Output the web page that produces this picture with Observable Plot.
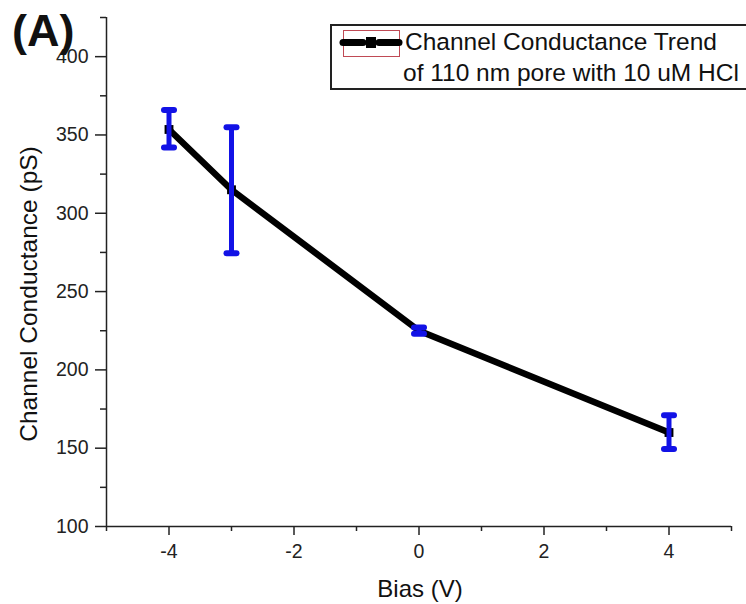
<!DOCTYPE html>
<html>
<head>
<meta charset="utf-8">
<script src="https://cdn.jsdelivr.net/npm/d3@7"></script>
<script src="https://cdn.jsdelivr.net/npm/@observablehq/plot@0.6"></script>
<style>
  html, body { margin: 0; padding: 0; background: #fff; overflow: hidden; }
  #wrap { position: relative; width: 746px; height: 604px; }
  #overlay { position: absolute; left: 0; top: 0; pointer-events: none; }
  text { font-family: "Liberation Sans", Arial, sans-serif; }
  #chart svg text { font-size: 19.5px; }
</style>
</head>
<body>
<div id="wrap">
  <div id="chart"></div>
  <svg id="overlay" width="746" height="604">
    <text x="12" y="46" font-size="45" font-weight="bold" fill="#111">(A)</text>
    <text transform="translate(37,294) rotate(-90)" text-anchor="middle" font-size="24.5" fill="#111">Channel Conductance (pS)</text>
    <text x="420" y="597" text-anchor="middle" font-size="24" fill="#111">Bias (V)</text>
    <g id="legend">
      <rect x="331" y="25" width="430" height="64" fill="#fff" stroke="#222" stroke-width="2"></rect>
      <rect x="343.5" y="30.5" width="56" height="26" fill="none" stroke="#c04a55" stroke-width="1"></rect>
      <line x1="343" y1="42.5" x2="363" y2="42.5" stroke="#000" stroke-width="7" stroke-linecap="round"></line>
      <rect x="366" y="37" width="10" height="11" fill="#000"></rect>
      <line x1="379" y1="42.5" x2="399" y2="42.5" stroke="#000" stroke-width="7" stroke-linecap="round"></line>
      <text x="405" y="50" font-size="24.5" fill="#111">Channel Conductance Trend</text>
      <text x="403" y="81" font-size="24.5" fill="#111">of 110 nm pore with 10 uM HCl</text>
    </g>
  </svg>
</div>
<script>
// Data
const bias = [-4, -3, 0, 4];
const conductance = [353.5, 315, 225, 160];
const errLow = [342, 274.5, 223, 149.5];
const errHigh = [366, 355, 227, 171];

// Axis ticks
const yMajorTicks = [100, 150, 200, 250, 300, 350, 400];
const yMinorTicks = [125, 175, 225, 275, 325, 375, 425];
const xMajorTicks = [-4, -2, 0, 2, 4];
const xMinorTicks = [-5, -3, -1, 1, 3, 5];

const data = bias.map((b, i) => ({x: b, y: conductance[i], lo: errLow[i], hi: errHigh[i]}));
const caps = data.flatMap(d => [{x: d.x, y: d.lo}, {x: d.x, y: d.hi}]);

const capSymbol = {
  draw(context) {
    context.moveTo(-5, 0);
    context.lineTo(5, 0);
  }
};

const blue = "#1212e6";
const font = "'Liberation Sans', Arial, sans-serif";

const chart = Plot.plot({
  width: 746,
  height: 604,
  marginLeft: 106,
  marginRight: 15,
  marginTop: 17,
  marginBottom: 78,
  style: {fontSize: "19.5px", fontFamily: font, color: "#222", background: "#fff"},
  x: {domain: [-5, 5]},
  y: {domain: [100, 425]},
  marks: [
    Plot.ruleY([100], {stroke: "#222", strokeWidth: 1.5}),
    Plot.ruleX([-5], {stroke: "#222", strokeWidth: 1.5}),
    Plot.axisY(yMajorTicks, {tickSize: 11, tickPadding: 7, label: null, strokeWidth: 1.5, fill: "#222"}),
    Plot.axisY(yMinorTicks, {tickSize: 6, text: null, label: null, strokeWidth: 1.5}),
    Plot.axisX(xMajorTicks, {tickSize: 9, tickPadding: 9, label: null, strokeWidth: 1.5, fill: "#222", tickFormat: d => d < 0 ? "-" + Math.abs(d) : String(d)}),
    Plot.axisX(xMinorTicks, {tickSize: 5, text: null, label: null, strokeWidth: 1.5}),
    Plot.line(data, {x: "x", y: "y", stroke: "#000", strokeWidth: 6.5, strokeLinejoin: "round"}),
    Plot.dot(data, {x: "x", y: "y", symbol: "square", fill: "#000", r: 5}),
    Plot.ruleX(data, {x: "x", y1: "lo", y2: "hi", stroke: blue, strokeWidth: 5}),
    Plot.dot(caps, {x: "x", y: "y", symbol: capSymbol, stroke: blue, strokeWidth: 6, strokeLinecap: "round", fill: "none"})
  ]
});
document.getElementById("chart").appendChild(chart);
</script>
</body>
</html>
